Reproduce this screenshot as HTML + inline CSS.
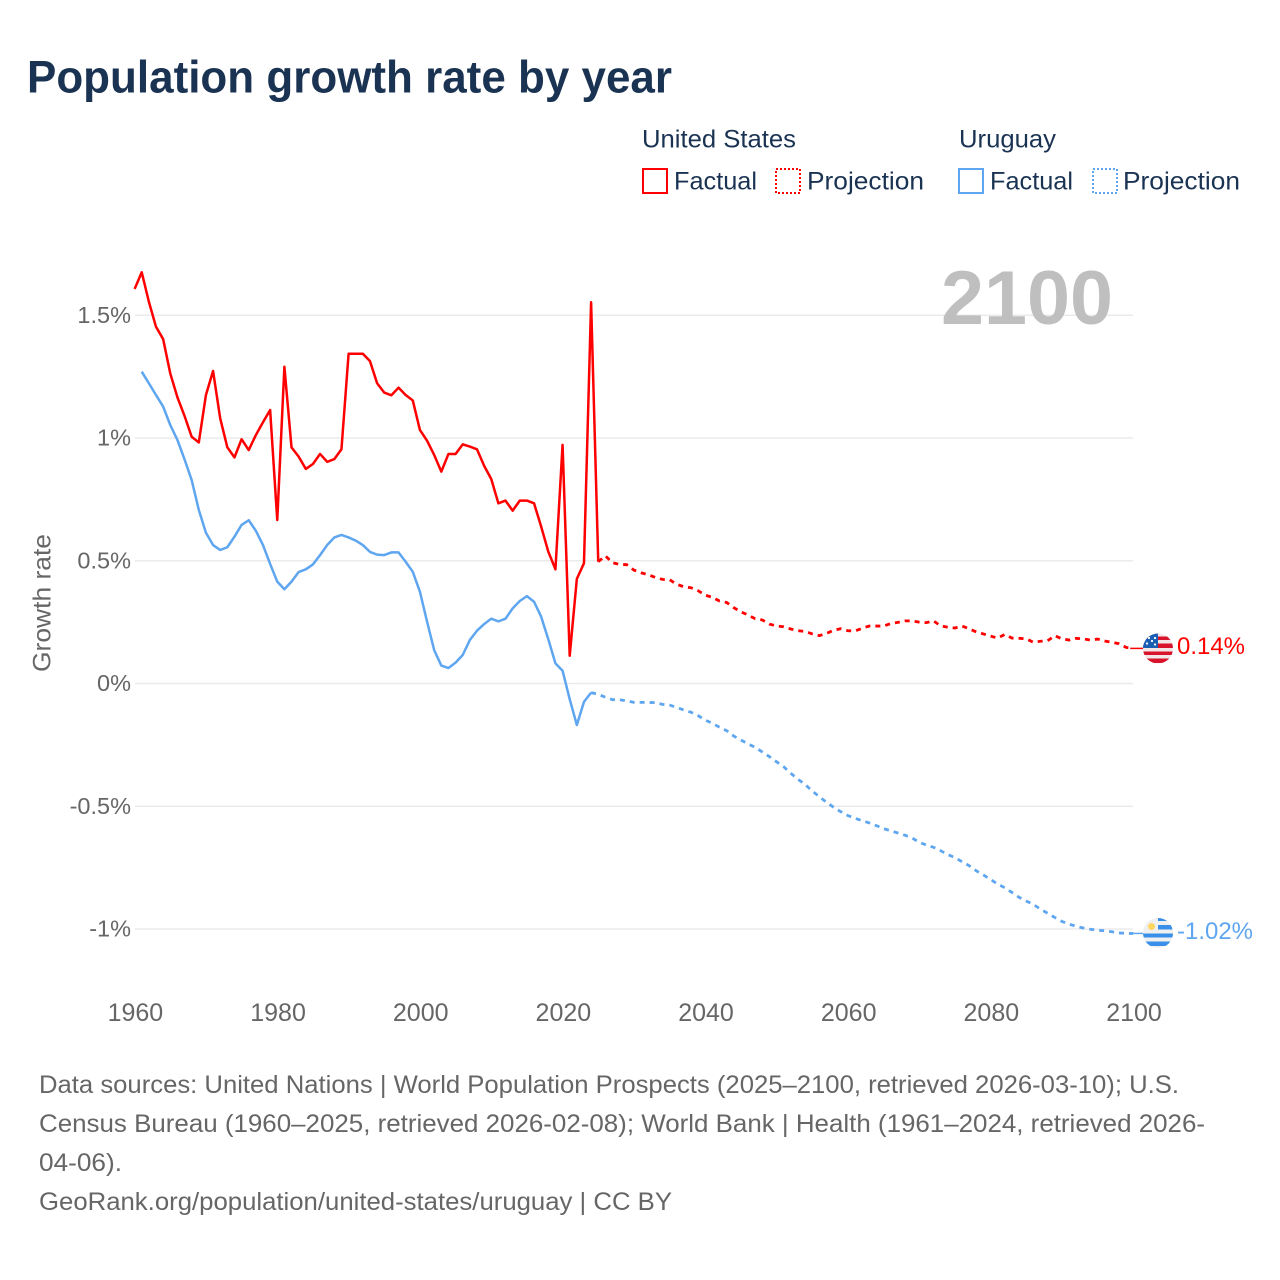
<!DOCTYPE html>
<html lang="en">
<head>
<meta charset="utf-8">
<title>Population growth rate by year</title>
<style>
html,body{margin:0;padding:0;background:#fff;width:1280px;height:1280px;overflow:hidden}
svg{display:block}
text{font-family:"Liberation Sans",sans-serif}
</style>
</head>
<body>
<svg id="chart" xmlns="http://www.w3.org/2000/svg" width="1280" height="1280" viewBox="0 0 1280 1280">
  <defs>
    <clipPath id="clip-us"><circle cx="1158" cy="648.5" r="15"/></clipPath>
    <clipPath id="clip-uy"><circle cx="1158" cy="933" r="15"/></clipPath>
  </defs>
  <rect width="1280" height="1280" fill="#fff"/>
  <text x="27" y="92.500" font-size="45" font-weight="700" fill="#1a3352" textLength="645" lengthAdjust="spacingAndGlyphs">Population growth rate by year</text>

  <g font-size="25" fill="#1a3352">
    <text x="642" y="147.500" textLength="154" lengthAdjust="spacingAndGlyphs">United States</text>
    <text x="959" y="147.500" textLength="97" lengthAdjust="spacingAndGlyphs">Uruguay</text>
    <rect x="643" y="169" width="24" height="24" fill="none" stroke="#ff0000" stroke-width="2"/>
    <text x="674" y="189.500" textLength="83" lengthAdjust="spacingAndGlyphs">Factual</text>
    <rect x="776" y="169" width="24" height="24" fill="none" stroke="#ff0000" stroke-width="2" stroke-dasharray="2 2"/>
    <text x="807" y="189.500" textLength="117" lengthAdjust="spacingAndGlyphs">Projection</text>
    <rect x="959" y="169" width="24" height="24" fill="none" stroke="#5ea6ef" stroke-width="2"/>
    <text x="990" y="189.500" textLength="83" lengthAdjust="spacingAndGlyphs">Factual</text>
    <rect x="1093" y="169" width="24" height="24" fill="none" stroke="#5ea6ef" stroke-width="2" stroke-dasharray="2 2"/>
    <text x="1123" y="189.500" textLength="117" lengthAdjust="spacingAndGlyphs">Projection</text>
  </g>

  <g id="grid"></g>
  <text x="941" y="324" font-size="76" font-weight="700" fill="#bfbfbf" textLength="172" lengthAdjust="spacingAndGlyphs">2100</text>
  <g id="y-ticks"></g>
  <g id="x-ticks"></g>
  <text transform="translate(50.500 672) rotate(-90)" font-size="25" fill="#666666" textLength="138" lengthAdjust="spacingAndGlyphs">Growth rate</text>
  <g id="series"></g>

  <g clip-path="url(#clip-us)">
    <rect x="1143" y="633" width="30" height="31" fill="#f3e6e6"/>
    <rect x="1143" y="636.500" width="30" height="3.500" fill="#d8132b"/>
    <rect x="1143" y="643.500" width="30" height="4.500" fill="#d8132b"/>
    <rect x="1143" y="651.500" width="30" height="3.500" fill="#d8132b"/>
    <rect x="1143" y="658.500" width="30" height="4.500" fill="#d8132b"/>
    <rect x="1143" y="633" width="15" height="15" fill="#1b5fb5"/>
    <circle cx="1149" cy="638" r="1.100" fill="#fff"/>
    <circle cx="1155" cy="638" r="1.100" fill="#fff"/>
    <circle cx="1152" cy="641" r="1.100" fill="#fff"/>
    <circle cx="1147" cy="643.500" r="1.100" fill="#fff"/>
    <circle cx="1155" cy="644.500" r="1.100" fill="#fff"/>
  </g>
  <g clip-path="url(#clip-uy)">
    <rect x="1143" y="918" width="30" height="30" fill="#f0f0f0"/>
    <rect x="1158" y="918" width="15" height="3" fill="#3a8fe8"/>
    <rect x="1158" y="925" width="15" height="4.500" fill="#3a8fe8"/>
    <rect x="1143" y="933.500" width="30" height="4" fill="#3a8fe8"/>
    <rect x="1143" y="941.500" width="30" height="4.500" fill="#3a8fe8"/>
    <circle cx="1151.500" cy="926.500" r="3.500" fill="#ffd75e"/>
  </g>
  <text x="1177" y="654" font-size="24" fill="#ff0000" textLength="68" lengthAdjust="spacingAndGlyphs">0.14%</text>
  <text x="1177" y="939" font-size="24" fill="#5ea6ef" textLength="76" lengthAdjust="spacingAndGlyphs">-1.02%</text>

  <g font-size="25" fill="#666666">
    <text x="39" y="1093" textLength="1140" lengthAdjust="spacingAndGlyphs">Data sources: United Nations | World Population Prospects (2025–2100, retrieved 2026-03-10); U.S.</text>
    <text x="39" y="1132" textLength="1166" lengthAdjust="spacingAndGlyphs">Census Bureau (1960–2025, retrieved 2026-02-08); World Bank | Health (1961–2024, retrieved 2026-</text>
    <text x="39" y="1171" textLength="83" lengthAdjust="spacingAndGlyphs">04-06).</text>
    <text x="39" y="1210" textLength="633" lengthAdjust="spacingAndGlyphs">GeoRank.org/population/united-states/uruguay | CC BY</text>
  </g>
</svg>
<script>
const yTickValues = [1.5, 1, 0.5, 0, -0.5, -1];
const yTickLabels = ["1.5%", "1%", "0.5%", "0%", "-0.5%", "-1%"];
const xTickYears = [1960, 1980, 2000, 2020, 2040, 2060, 2080, 2100];
const usStartYear = 1960;
const usFactual = [1.607,1.675,1.555,1.453,1.403,1.263,1.166,1.09,1.005,0.982,
  1.175,1.273,1.08,0.962,0.921,0.995,0.951,1.012,1.064,1.114,
  0.666,1.29,0.962,0.924,0.874,0.894,0.935,0.903,0.914,0.954,
  1.343,1.343,1.343,1.313,1.223,1.185,1.174,1.205,1.175,1.153,
  1.033,0.989,0.931,0.863,0.935,0.935,0.974,0.965,0.954,0.887,
  0.833,0.734,0.745,0.704,0.745,0.745,0.734,0.639,0.537,0.465,
  0.972,0.113,0.426,0.49,1.553,0.496];
const usProjectionStartYear = 2025;
const usProjection = [0.496,0.52,0.492,0.485,0.484,0.462,0.451,0.443,0.432,0.424,0.423,
  0.404,0.394,0.39,0.378,0.36,0.351,0.336,0.33,0.309,0.292,
  0.279,0.264,0.259,0.242,0.234,0.231,0.222,0.215,0.212,0.202,
  0.195,0.204,0.217,0.223,0.215,0.214,0.225,0.234,0.234,0.234,
  0.244,0.249,0.255,0.255,0.25,0.248,0.255,0.235,0.229,0.226,
  0.234,0.223,0.21,0.202,0.193,0.185,0.2,0.185,0.184,0.182,
  0.168,0.172,0.174,0.195,0.182,0.177,0.184,0.182,0.177,0.181,
  0.173,0.168,0.162,0.147,0.143];
const uyStartYear = 1961;
const uyFactual = [1.27,1.223,1.175,1.128,1.053,0.992,0.913,0.829,0.707,
  0.614,0.564,0.544,0.555,0.598,0.646,0.665,0.622,0.564,0.487,
  0.415,0.384,0.415,0.454,0.465,0.485,0.523,0.564,0.595,0.605,
  0.595,0.582,0.564,0.536,0.525,0.523,0.534,0.534,0.496,0.455,
  0.374,0.252,0.136,0.073,0.063,0.085,0.116,0.177,0.215,0.242,
  0.264,0.253,0.264,0.306,0.336,0.356,0.333,0.272,0.18,0.082,
  0.052,-0.064,-0.169,-0.075,-0.037];
const uyProjectionStartYear = 2024;
const uyProjection = [-0.037,-0.044,-0.056,-0.066,-0.066,-0.071,-0.077,-0.077,-0.077,-0.078,-0.085,
  -0.088,-0.097,-0.108,-0.117,-0.131,-0.149,-0.162,-0.178,-0.192,-0.214,
  -0.23,-0.246,-0.26,-0.279,-0.298,-0.319,-0.339,-0.366,-0.39,-0.411,
  -0.438,-0.461,-0.484,-0.504,-0.522,-0.538,-0.549,-0.559,-0.568,-0.579,
  -0.591,-0.6,-0.609,-0.618,-0.629,-0.647,-0.658,-0.667,-0.681,-0.697,
  -0.709,-0.726,-0.742,-0.763,-0.78,-0.798,-0.817,-0.832,-0.851,-0.871,
  -0.886,-0.9,-0.919,-0.936,-0.953,-0.969,-0.98,-0.989,-0.996,-1.001,
  -1.005,-1.007,-1.011,-1.016,-1.018,-1.018];

const SVG_NS = "http://www.w3.org/2000/svg";
const US_COLOR = "#ff0000";
const UY_COLOR = "#5ea6ef";
const xScale = function (year) { return 134.6 + (year - 1960) * (998.6 / 140); };
const yScale = function (value) { return 683.5 - value * 245.5; };

function pointsFor(startYear, values) {
  return values.map(function (v, i) {
    return xScale(startYear + i).toFixed(2) + "," + yScale(v).toFixed(2);
  }).join(" ");
}
function make(tag) { return document.createElementNS(SVG_NS, tag); }

const gridGroup = document.getElementById("grid");
const yTickGroup = document.getElementById("y-ticks");
yTickValues.forEach(function (v, i) {
  const line = make("line");
  
  
  line.setAttribute("x1", 135);
  line.setAttribute("x2", 1133);
  line.setAttribute("y1", yScale(v));
  line.setAttribute("y2", yScale(v));
  line.setAttribute("stroke", "#ebebeb");
  line.setAttribute("stroke-width", "1.5");
  gridGroup.appendChild(line);

  const label = make("text");
  
  
  label.setAttribute("x", 131);
  label.setAttribute("y", yScale(v) + 7.5);
  label.setAttribute("text-anchor", "end");
  label.setAttribute("font-size", "23.5");
  label.setAttribute("fill", "#666666");
  label.textContent = yTickLabels[i];
  yTickGroup.appendChild(label);
});

const xTickGroup = document.getElementById("x-ticks");
xTickYears.forEach(function (year) {
  const label = make("text");
  
  
  label.setAttribute("x", xScale(year) + 0.8);
  label.setAttribute("y", 1021);
  label.setAttribute("text-anchor", "middle");
  label.setAttribute("font-size", "25");
  label.setAttribute("fill", "#666666");
  label.textContent = String(year);
  xTickGroup.appendChild(label);
});

const seriesGroup = document.getElementById("series");

const usProjectionLine = make("polyline");


usProjectionLine.setAttribute("points", pointsFor(usProjectionStartYear, usProjection));
usProjectionLine.setAttribute("fill", "none");
usProjectionLine.setAttribute("stroke", US_COLOR);
usProjectionLine.setAttribute("stroke-width", "2.8");
usProjectionLine.setAttribute("stroke-dasharray", "5 5");
seriesGroup.appendChild(usProjectionLine);

const uyProjectionLine = make("polyline");


uyProjectionLine.setAttribute("points", pointsFor(uyProjectionStartYear, uyProjection));
uyProjectionLine.setAttribute("fill", "none");
uyProjectionLine.setAttribute("stroke", UY_COLOR);
uyProjectionLine.setAttribute("stroke-width", "2.8");
uyProjectionLine.setAttribute("stroke-dasharray", "5 5");
seriesGroup.appendChild(uyProjectionLine);

const uyFactualLine = make("polyline");


uyFactualLine.setAttribute("points", pointsFor(uyStartYear, uyFactual));
uyFactualLine.setAttribute("fill", "none");
uyFactualLine.setAttribute("stroke", UY_COLOR);
uyFactualLine.setAttribute("stroke-width", "2.5");
uyFactualLine.setAttribute("stroke-linejoin", "round");
seriesGroup.appendChild(uyFactualLine);

const usFactualLine = make("polyline");


usFactualLine.setAttribute("points", pointsFor(usStartYear, usFactual));
usFactualLine.setAttribute("fill", "none");
usFactualLine.setAttribute("stroke", US_COLOR);
usFactualLine.setAttribute("stroke-width", "2.5");
usFactualLine.setAttribute("stroke-linejoin", "round");
seriesGroup.appendChild(usFactualLine);

const usLastY = yScale(usProjection[usProjection.length - 1]);
const usConnector = make("line");


usConnector.setAttribute("x1", xScale(2100) - 3);
usConnector.setAttribute("x2", 1143);
usConnector.setAttribute("y1", usLastY);
usConnector.setAttribute("y2", usLastY);
usConnector.setAttribute("stroke", US_COLOR);
usConnector.setAttribute("stroke-width", "1.5");
seriesGroup.appendChild(usConnector);

const uyLastY = yScale(uyProjection[uyProjection.length - 1]);
const uyConnector = make("line");


uyConnector.setAttribute("x1", xScale(2100) - 3);
uyConnector.setAttribute("x2", 1143);
uyConnector.setAttribute("y1", uyLastY);
uyConnector.setAttribute("y2", uyLastY);
uyConnector.setAttribute("stroke", UY_COLOR);
uyConnector.setAttribute("stroke-width", "1.5");
seriesGroup.appendChild(uyConnector);
</script>
</body>
</html>
